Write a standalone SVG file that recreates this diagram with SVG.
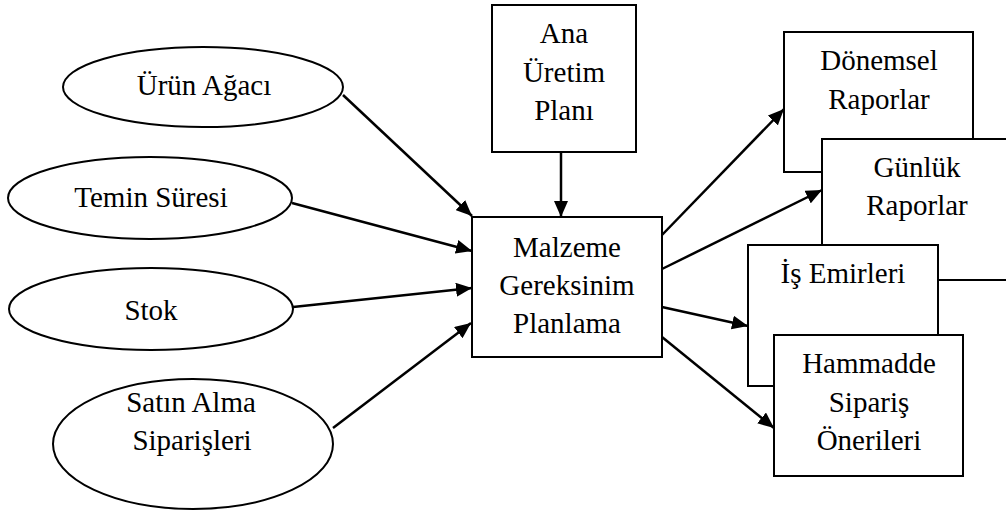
<svg xmlns="http://www.w3.org/2000/svg" width="1006" height="512" viewBox="0 0 1006 512">
<style>
.n{fill:#fff;stroke:#000;stroke-width:2}
.t{font-family:"Liberation Serif","Times New Roman",serif;font-size:29px;fill:#000;text-anchor:middle}
.c{stroke:#000;stroke-width:2.5;fill:none;marker-end:url(#ah)}
</style>
<defs>
<marker id="ah" markerUnits="userSpaceOnUse" markerWidth="18" markerHeight="14" refX="16" refY="7" orient="auto">
<path d="M0,0 L16,7 L0,14 Z" fill="#000"/>
</marker>
</defs>
<rect width="1006" height="512" fill="#fff"/>
<g id="connectors">
<line class="c" x1="343" y1="95" x2="472" y2="216"/>
<line class="c" x1="292" y1="203" x2="472" y2="251"/>
<line class="c" x1="293" y1="307" x2="472" y2="288"/>
<line class="c" x1="333" y1="428" x2="471" y2="323"/>
<line class="c" x1="561" y1="152" x2="561" y2="217"/>
<line class="c" x1="662" y1="235" x2="784" y2="109"/>
<line class="c" x1="662" y1="269" x2="822" y2="190"/>
<line class="c" x1="662" y1="307" x2="748" y2="326"/>
<line class="c" x1="662" y1="337" x2="774" y2="428"/>
</g>
<g id="urun-agaci">
<ellipse class="n" cx="203" cy="87" rx="140" ry="40"/>
<text class="t" x="204" y="95">Ürün Ağacı</text>
</g>
<g id="temin-suresi">
<ellipse class="n" cx="150" cy="198" rx="142" ry="41"/>
<text class="t" x="151" y="207">Temin Süresi</text>
</g>
<g id="stok">
<ellipse class="n" cx="151" cy="309" rx="142" ry="41"/>
<text class="t" x="151" y="320">Stok</text>
</g>
<g id="satin-alma">
<ellipse class="n" cx="193" cy="444" rx="140" ry="65"/>
<text class="t" x="191" y="412">Satın Alma</text>
<text class="t" x="192" y="450">Siparişleri</text>
</g>
<g id="ana-uretim">
<rect class="n" x="492" y="5" width="144" height="147"/>
<text class="t" x="564" y="43">Ana</text>
<text class="t" x="564" y="82">Üretim</text>
<text class="t" x="564" y="120">Planı</text>
</g>
<g id="mrp">
<rect class="n" x="472" y="217" width="190" height="140"/>
<text class="t" x="567" y="257">Malzeme</text>
<text class="t" x="567" y="295">Gereksinim</text>
<text class="t" x="567" y="333">Planlama</text>
</g>
<g id="donemsel">
<rect class="n" x="784" y="32" width="189" height="140"/>
<text class="t" x="879" y="70">Dönemsel</text>
<text class="t" x="879" y="109">Raporlar</text>
</g>
<g id="gunluk">
<rect class="n" x="822" y="139" width="190" height="141"/>
<text class="t" x="917" y="177">Günlük</text>
<text class="t" x="917" y="215">Raporlar</text>
</g>
<g id="is-emirleri">
<rect class="n" x="748" y="245" width="190" height="141"/>
<text class="t" x="843" y="283">İş Emirleri</text>
</g>
<g id="hammadde">
<rect class="n" x="774" y="335" width="189" height="141"/>
<text class="t" x="869" y="373">Hammadde</text>
<text class="t" x="869" y="412">Sipariş</text>
<text class="t" x="869" y="450">Önerileri</text>
</g>
</svg>
